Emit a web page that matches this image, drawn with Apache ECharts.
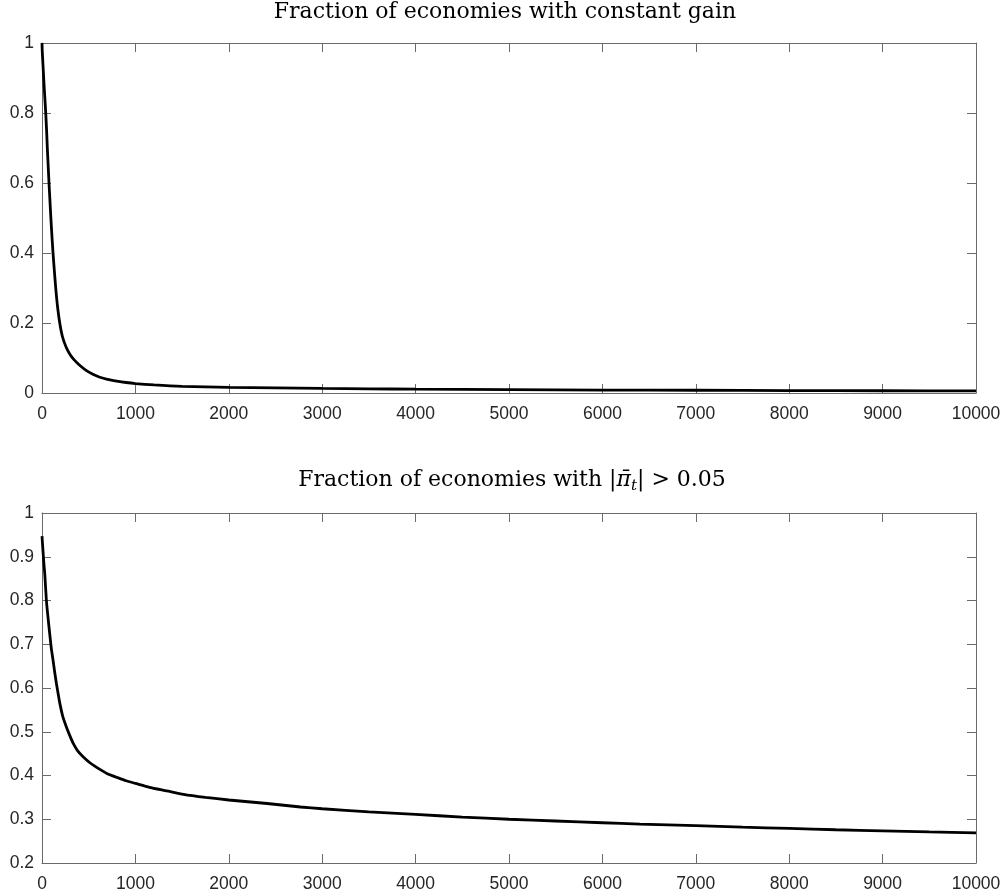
<!DOCTYPE html>
<html>
<head>
<meta charset="utf-8">
<script src="https://cdn.jsdelivr.net/npm/echarts@6/dist/echarts.min.js"></script>
<style>html,body{margin:0;padding:0;background:#fff}#c{width:1006px;height:896px}</style>
</head>
<body>
<div id="c"></div>
<script>
// Top panel: fraction of economies with constant gain
var tTop = [0,3,10,20,30,40,50,57,66,75,85,95,106,118,132,147,165,190,220,260,300,340,400,476,550,620,700,800,900,1000,1200,1500,2000,2500,3000,3500,4000,5000,6000,7000,8000,9000,10000];
var vTop = [1.0,0.975,0.94,0.89,0.845,0.80,0.745,0.70,0.65,0.60,0.55,0.50,0.45,0.40,0.35,0.30,0.25,0.20,0.16,0.13,0.11,0.096,0.08,0.064,0.053,0.045,0.039,0.034,0.030,0.027,0.023,0.019,0.016,0.0145,0.013,0.012,0.011,0.0095,0.0085,0.0078,0.007,0.0065,0.006];
// Bottom panel: fraction of economies with |pi_bar_t| > 0.05
var tBot = [0,10,20,30,47,65,82,100,118,136,154,172,190,220,261,300,333,380,440,520,620,700,798,900,1000,1150,1335,1515,1750,2000,2410,2768,3000,3500,4000,4500,5000,5500,6000,6400,7000,7500,8000,8500,9000,9500,10000];
var vBot = [0.947,0.915,0.885,0.86,0.80,0.76,0.725,0.69,0.664,0.636,0.611,0.588,0.566,0.537,0.511,0.49,0.474,0.457,0.443,0.428,0.414,0.404,0.396,0.388,0.382,0.373,0.365,0.357,0.350,0.344,0.336,0.328,0.324,0.317,0.311,0.305,0.300,0.296,0.292,0.289,0.2855,0.282,0.279,0.276,0.2735,0.271,0.269];
var xTicks = {min: 0, max: 10000, interval: 1000};
var yTopTicks = {min: 0, max: 1, interval: 0.2};
var yBotTicks = {min: 0.2, max: 1, interval: 0.1};
var titleTop = 'Fraction of economies with constant gain';
var titleBot = 'Fraction of economies with |{pi|π̄}{sub|t}| > 0.05';

function pairs(t, v) { return t.map(function (x, i) { return [x, v[i]]; }); }

var axisCol = '#6a6a6a';
var labelCol = '#262626';
var labelFont = {color: labelCol, fontFamily: 'Liberation Sans', fontSize: 17.5};

function xAx(grid, pos, show) {
  return {
    type: 'value', gridIndex: grid, position: pos,
    min: xTicks.min, max: xTicks.max, interval: xTicks.interval,
    axisLine: {show: true, onZero: false, lineStyle: {color: axisCol, width: 1}},
    axisTick: {show: true, inside: true, length: 9, lineStyle: {color: axisCol, width: 1}},
    axisLabel: Object.assign({show: show, margin: 12, formatter: function (v) { return String(Math.round(v)); }}, labelFont),
    splitLine: {show: false}
  };
}
function yAx(grid, pos, show, tk) {
  return {
    type: 'value', gridIndex: grid, position: pos,
    min: tk.min, max: tk.max, interval: tk.interval,
    axisLine: {show: true, onZero: false, lineStyle: {color: axisCol, width: 1}},
    axisTick: {show: true, inside: true, length: 9, lineStyle: {color: axisCol, width: 1}},
    axisLabel: Object.assign({show: show, margin: 8, formatter: function (v) { return String(Math.round(v * 10) / 10); }}, labelFont),
    splitLine: {show: false}
  };
}

var titleStyle = {color: '#000', fontFamily: 'DejaVu Serif', fontSize: 22, fontWeight: 'normal', lineHeight: 28,
  rich: {
    pi: {fontFamily: 'DejaVu Serif', fontStyle: 'italic', fontSize: 22, lineHeight: 28, color: '#000'},
    sub: {fontFamily: 'DejaVu Serif', fontStyle: 'italic', fontSize: 15, lineHeight: 17, verticalAlign: 'bottom', color: '#000'}
  }
};

var chart = echarts.init(document.getElementById('c'), null, {renderer: 'canvas'});
chart.setOption({
  animation: false,
  backgroundColor: '#fff',
  title: [
    {text: titleTop, left: 505, top: -2, textAlign: 'center', padding: 0, textStyle: titleStyle},
    {text: titleBot, left: 512, top: 466, textAlign: 'center', padding: 0, textStyle: titleStyle}
  ],
  grid: [
    {left: 42, top: 43, width: 934, height: 350, containLabel: false},
    {left: 42, top: 513, width: 934, height: 350, containLabel: false}
  ],
  xAxis: [xAx(0, 'bottom', true), xAx(0, 'top', false), xAx(1, 'bottom', true), xAx(1, 'top', false)],
  yAxis: [yAx(0, 'left', true, yTopTicks), yAx(0, 'right', false, yTopTicks), yAx(1, 'left', true, yBotTicks), yAx(1, 'right', false, yBotTicks)],
  series: [
    {type: 'line', xAxisIndex: 0, yAxisIndex: 0, data: pairs(tTop, vTop), showSymbol: false, smooth: 0.2,
      lineStyle: {color: '#000', width: 2.8}, itemStyle: {color: '#000'}},
    {type: 'line', xAxisIndex: 2, yAxisIndex: 2, data: pairs(tBot, vBot), showSymbol: false, smooth: 0.2,
      lineStyle: {color: '#000', width: 2.8}, itemStyle: {color: '#000'}}
  ]
});
</script>
</body>
</html>
